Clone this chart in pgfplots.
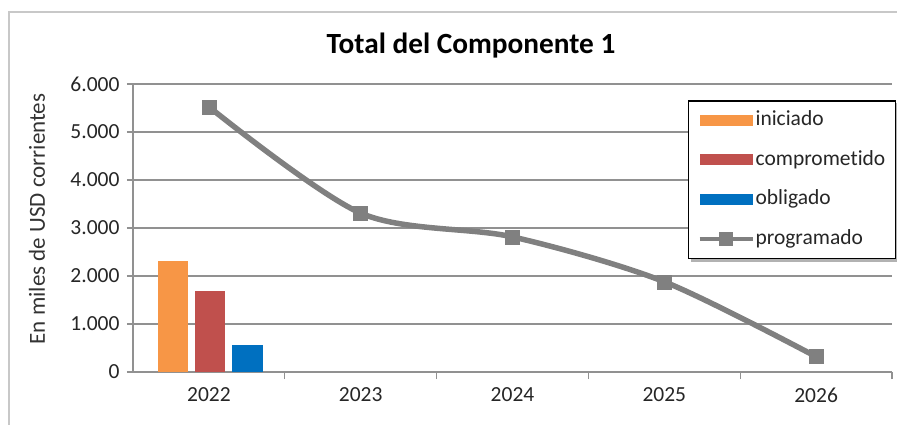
\documentclass[border=0pt]{standalone}
\usepackage{pgfplots}
\pgfplotsset{compat=1.18}
\usepackage{fontspec}
\setmainfont{Carlito}[Ligatures=NoCommon]
\pgfdeclarelayer{background}
\pgfsetlayers{background,main}
\definecolor{cIni}{RGB}{247,150,70}
\definecolor{cCom}{RGB}{192,80,77}
\definecolor{cObl}{RGB}{0,112,192}
\definecolor{cPro}{RGB}{128,128,128}
\definecolor{cGrid}{RGB}{145,145,145}
\definecolor{cFrame}{RGB}{200,200,200}
\begin{document}
\begin{tikzpicture}
\path[use as bounding box] (0bp,0bp) rectangle (897bp,-425bp);
\draw[cFrame, line width=2bp] (9bp,-425bp) -- (9bp,-12bp) -- (897bp,-12bp);
\node[anchor=base, font=\fontsize{29.3bp}{33bp}\selectfont\bfseries] at (471bp,-53bp) {Total del Componente 1};
\node[rotate=90, font=\fontsize{23bp}{26bp}\selectfont, text=black!80] at (37bp,-219bp) {En miles de USD corrientes};
\begin{axis}[
  at={(133bp,-372bp)}, anchor=south west,
  scale only axis, width=759bp, height=288bp,
  xmin=-0.5, xmax=4.5, ymin=0, ymax=6000,
  axis x line*=bottom, axis y line*=left,
  axis line style={cGrid, line width=1.3bp},
  xtick={0,1,2,3,4}, xticklabels={2022,2023,2024,2025,2026},
  minor xtick={0.5,1.5,2.5,3.5,4.5},
  ytick={0,1000,2000,3000,4000,5000,6000},
  major x tick style={draw=none},
  minor x tick style={cGrid, line width=1.3bp},
  major y tick style={cGrid, line width=1.3bp},
  tick align=outside,
  major tick length=6bp, minor tick length=7bp,
  ymajorgrids, grid style={cGrid, line width=1.3bp},
  /pgf/number format/assume math mode=true,
  /pgf/number format/1000 sep={.},
  scaled y ticks=false,
  ticklabel style={font=\fontsize{21.5bp}{25bp}\selectfont, text=black!85},
  yticklabel style={xshift=-4bp},
  xticklabel style={yshift=-6bp},
  legend style={
    name=leg,
    at={(0.731,0.944)}, anchor=north west,
    draw=black, line width=1.5bp, fill=white,
    inner xsep=9bp, inner ysep=9bp,
    font=\fontsize{21.5bp}{25bp}\selectfont,
    row sep=18.5bp,
    nodes={inner sep=1bp, text height=15bp, text depth=4bp, text=black!85},
  },
  legend cell align=left,
  clip=false,
]
\addplot[ybar, bar width=30bp, bar shift=-36bp, fill=cIni, draw=none,
  legend image code/.code={\fill[cIni] (0bp,-5.5bp) rectangle (53bp,5.5bp);}]
  coordinates {(0,2310)};
\addlegendentry{iniciado}
\addplot[ybar, bar width=30bp, bar shift=1.5bp, fill=cCom, draw=none,
  legend image code/.code={\fill[cCom] (0bp,-5.5bp) rectangle (53bp,5.5bp);}]
  coordinates {(0,1690)};
\addlegendentry{comprometido}
\addplot[ybar, bar width=31bp, bar shift=38.5bp, fill=cObl, draw=none,
  legend image code/.code={\fill[cObl] (0bp,-5.5bp) rectangle (53bp,5.5bp);}]
  coordinates {(0,560)};
\addlegendentry{obligado}
\addplot[cPro, line width=5.5bp, smooth, tension=0.5, mark=square*,
  mark options={fill=cPro, draw=cPro, line width=0.5bp, scale=1},
  mark size=7bp,
  legend image code/.code={\draw[cPro, line width=4bp] (0bp,0bp) -- (53bp,0bp);
    \fill[cPro] (22bp,-4bp) rectangle (31bp,4bp);}]
  coordinates {(0,5525) (1,3310) (2,2815) (3,1880) (4,320)};
\addlegendentry{programado}
\end{axis}
\begin{pgfonlayer}{background}
\fill[black, opacity=0.3] ([xshift=3bp,yshift=-3bp]leg.south west) rectangle ([xshift=3bp,yshift=-3bp]leg.north east);
\end{pgfonlayer}
\end{tikzpicture}
\end{document}
